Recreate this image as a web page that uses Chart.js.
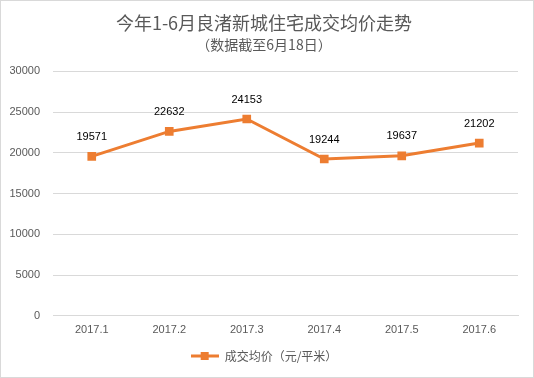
<!DOCTYPE html>
<html>
<head>
<meta charset="utf-8">
<script src="https://cdn.jsdelivr.net/npm/chart.js@4/dist/chart.umd.min.js"></script>
<style>
  html, body { margin: 0; padding: 0; background: #fff; }
  #wrap { width: 534px; height: 378px; box-sizing: border-box; border: 1px solid #d9d9d9; }
</style>
</head>
<body>
<div id="wrap"><canvas id="c"></canvas></div>
<script>
const months = ['2017.1', '2017.2', '2017.3', '2017.4', '2017.5', '2017.6'];
const avgPrice = [19571, 22632, 24153, 19244, 19637, 21202];
const seriesName = '成交均价（元/平米）';
const titleText = '今年1-6月良渚新城住宅成交均价走势';
const subtitleText = '（数据截至6月18日）';

const font = "'Microsoft YaHei', 'Noto Sans CJK SC', 'DejaVu Sans', sans-serif";
const numFont = "'Liberation Sans', Arial, sans-serif";
const orange = '#ed7d31';

// legend marker: line with a square in the middle
const legendMark = document.createElement('canvas');
legendMark.width = 28;
legendMark.height = 10;
(function () {
  const g = legendMark.getContext('2d');
  g.fillStyle = orange;
  g.fillRect(0, 3.5, 28, 3);
  g.fillRect(10, 1, 8, 8);
})();

// labels above each point
const pointLabels = {
  id: 'pointLabels',
  afterDatasetsDraw(chart) {
    const ctx = chart.ctx;
    const meta = chart.getDatasetMeta(0);
    ctx.save();
    ctx.font = '11px ' + numFont;
    ctx.fillStyle = '#000';
    ctx.textAlign = 'center';
    ctx.textBaseline = 'bottom';
    meta.data.forEach((pt, i) => {
      ctx.fillText(String(avgPrice[i]), pt.x, pt.y - 14);
    });
    ctx.restore();
  }
};

new Chart(document.getElementById('c'), {
  type: 'line',
  data: {
    labels: months,
    datasets: [{
      label: seriesName,
      data: avgPrice,
      borderColor: orange,
      backgroundColor: orange,
      borderWidth: 3,
      pointStyle: 'rect',
      pointRadius: 4,
      pointHoverRadius: 4,
      tension: 0
    }]
  },
  options: {
    responsive: true,
    maintainAspectRatio: false,
    animation: false,
    layout: { padding: { left: 9, right: 15, top: 9, bottom: 5 } },
    plugins: {
      title: {
        display: true,
        text: titleText,
        color: '#595959',
        font: { family: font, size: 18, weight: 'normal' },
        padding: { top: 2, bottom: 3 }
      },
      subtitle: {
        display: true,
        text: subtitleText,
        color: '#595959',
        font: { family: font, size: 14, weight: 'normal' },
        padding: { top: 0, bottom: 18 }
      },
      legend: {
        display: true,
        position: 'bottom',
        labels: {
          color: '#595959',
          font: { family: font, size: 12 },
          usePointStyle: true,
          pointStyleWidth: 28,
          padding: 10,
          generateLabels: chart => [{
            text: seriesName,
            pointStyle: legendMark,
            fontColor: '#595959',
            lineWidth: 0,
            strokeStyle: 'transparent',
            fillStyle: orange,
            datasetIndex: 0
          }]
        }
      },
      tooltip: { enabled: false }
    },
    scales: {
      x: {
        offset: true,
        grid: { display: false },
        border: { color: '#d9d9d9' },
        ticks: { color: '#595959', font: { family: numFont, size: 11 }, padding: 0 },
        afterFit: s => { s.height += 3; }
      },
      y: {
        min: 0,
        max: 30000,
        border: { display: false },
        grid: { color: '#d9d9d9', drawTicks: false },
        ticks: {
          stepSize: 5000,
          color: '#595959',
          font: { family: numFont, size: 11 },
          padding: 13,
          callback: v => String(v)
        },
        afterFit: s => { s.width = 43; }
      }
    }
  },
  plugins: [pointLabels]
});
</script>
</body>
</html>
